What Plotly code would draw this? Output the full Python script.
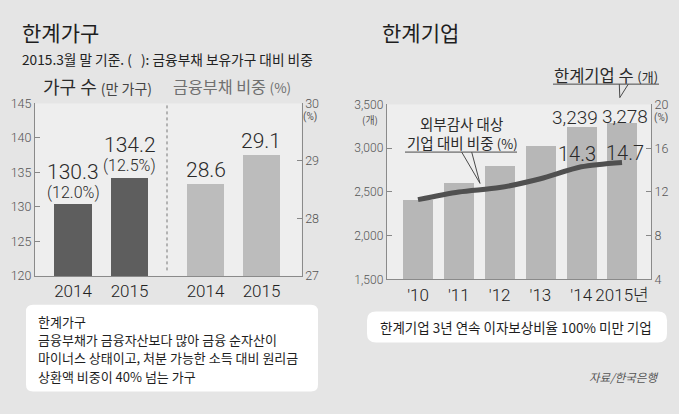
import plotly.graph_objects as go

W, H = 679, 414
BG = "#e5e5e5"
PLOT_BG = "#eeeeee"
FONT = "Noto Sans CJK KR"
NUM = "Roboto, Noto Sans CJK KR"

# ---------------- data ----------------
hh_years = ["2014", "2015"]
hh_count = [130.3, 134.2]      # 한계가구 수 (만 가구)
hh_share = [12.0, 12.5]        # 금융부채 보유가구 대비 비중 (%)
debt_share = [28.6, 29.1]      # 금융부채 비중 (%)

firm_years = ["'10", "'11", "'12", "'13", "'14", "2015년"]
firm_count = [2400, 2600, 2790, 3020, 3239, 3278]   # 한계기업 수 (개)
firm_pct = [11.3, 12.0, 12.4, 13.2, 14.3, 14.7]     # 외부감사 대상 기업 대비 비중 (%)

left_ticks = [120, 125, 130, 135, 140, 145]
right_ticks = [27, 28, 29, 30]
firm_ticks = [1500, 2000, 2500, 3000, 3500]
pct_ticks = [4, 8, 12, 16, 20]


def X(p):
    return p / W


def Y(p):
    return 1 - p / H


fig = go.Figure()

fig.add_trace(go.Bar(x=hh_years, y=hh_count, xaxis="x", yaxis="y",
                     marker=dict(color="#5e5e5e", line=dict(width=0)), width=0.67,
                     hoverinfo="skip"))
fig.add_trace(go.Bar(x=hh_years, y=debt_share, xaxis="x3", yaxis="y2",
                     marker=dict(color="#bcbcbc", line=dict(width=0)), width=0.66,
                     hoverinfo="skip"))
fig.add_trace(go.Bar(x=firm_years, y=firm_count, xaxis="x2", yaxis="y3",
                     marker=dict(color="#b7b7b7", line=dict(width=0)), width=0.735,
                     hoverinfo="skip"))
fig.add_trace(go.Scatter(x=firm_years, y=firm_pct, xaxis="x2", yaxis="y4",
                         mode="lines", line=dict(color="#505050", width=5, shape="spline", smoothing=0.8),
                         hoverinfo="skip"))

axis_common = dict(showgrid=False, zeroline=False, showline=True, linecolor="#8a8a8a",
                   linewidth=1, fixedrange=True)

annotations = []
shapes = []


def nf(size, color="#2a2a2a"):
    return dict(family=NUM, size=size, color=color, weight=300)


# value labels, left chart (category axes: positions by index)
for i, (v, s) in enumerate(zip(hh_count, hh_share)):
    annotations.append(dict(x=i, y=v, xref="x", yref="y", text=f"{v:.1f}", showarrow=False,
                            yanchor="middle", yshift=33, font=nf(21)))
    annotations.append(dict(x=i, y=v, xref="x", yref="y", text=f"({s:.1f}%)", showarrow=False,
                            yanchor="middle", yshift=12, font=nf(16)))
for i, v in enumerate(debt_share):
    annotations.append(dict(x=i, y=v, xref="x3", yref="y2", text=f"{v:.1f}", showarrow=False,
                            yanchor="middle", yshift=14, font=nf(21)))

# value labels, right chart
for i, sh, xs in ((4, 10, -6), (5, 7, 3)):
    annotations.append(dict(x=i, y=firm_count[i], xref="x2", yref="y3",
                            text=f"{firm_count[i]:,}", showarrow=False, yanchor="middle", yshift=sh,
                            xshift=xs, font=nf(19)))
for i, sh, xs in ((4, 13, -4), (5, 9, 3)):
    annotations.append(dict(x=i, y=firm_pct[i], xref="x2", yref="y4",
                            text=f"{firm_pct[i]:.1f}", showarrow=False, yanchor="middle", yshift=sh,
                            xshift=xs, font=nf(20)))


def txt(x, y, text, size, color="#222", xanchor="left", family=FONT):
    annotations.append(dict(x=X(x), y=Y(y), xref="paper", yref="paper", text=text, showarrow=False,
                            xanchor=xanchor, yanchor="middle", font=dict(family=family, size=size, color=color)))


# headings
txt(20, 25, "한계가구", 21, "#1e1e1e")
txt(380, 25, "한계기업", 21, "#1e1e1e")
txt(20, 53, "2015.3월 말 기준. (   ): 금융부채 보유가구 대비 비중", 13.7, "#222")
txt(41, 81, "가구 수 <span style='font-size:14px;color:#444'>(만 가구)</span>", 18, "#2a2a2a")
txt(171, 81, "금융부채 비중 <span style='font-size:13.5px'>(%)</span>", 16.2, "#707070")

# axis unit labels
txt(310, 113.5, "(%)", 10, "#555", "center", NUM)
txt(370, 115.5, "(개)", 10, "#555", "center", FONT)
txt(661, 114, "(%)", 10, "#555", "center", NUM)

# callouts
txt(606, 70, "한계기업 수 <span style='font-size:13px'>(개)</span>", 16.5, "#2a2a2a", "center")
txt(461, 120, "외부감사 대상", 14.5, "#2a2a2a", "center")
txt(462, 140, "기업 대비 비중 <span style='font-size:13px'>(%)</span>", 14.5, "#2a2a2a", "center")


def line(x0, y0, x1, y1, color="#4a4a4a", width=1, dash="solid"):
    shapes.append(dict(type="line", xref="paper", yref="paper", x0=X(x0), y0=Y(y0), x1=X(x1), y1=Y(y1),
                       line=dict(color=color, width=width, dash=dash), layer="above"))


line(553, 79, 659, 79)
line(619.3, 79, 619.8, 93)
line(628.3, 79, 619.8, 93)
line(405, 149.5, 517, 149.5)
line(461.7, 149.5, 480, 182)
line(471.7, 149.5, 480, 182)

# dashed divider in left chart
shapes.append(dict(type="line", xref="x domain", yref="y", x0=1, x1=1, y0=120.8, y1=145.1,
                   line=dict(color="#777", width=1, dash="3px,3px"), layer="above"))


def rrect(x0, y0, x1, y1, r):
    rx, ry = r / W, r / H
    a0, a1, b0, b1 = X(x0), X(x1), Y(y1), Y(y0)
    p = (f"M{a0 + rx},{b0} L{a1 - rx},{b0} Q{a1},{b0} {a1},{b0 + ry} "
         f"L{a1},{b1 - ry} Q{a1},{b1} {a1 - rx},{b1} L{a0 + rx},{b1} "
         f"Q{a0},{b1} {a0},{b1 - ry} L{a0},{b0 + ry} Q{a0},{b0} {a0 + rx},{b0} Z")
    shapes.append(dict(type="path", xref="paper", yref="paper", path=p, fillcolor="white",
                       line=dict(width=0), layer="below"))


rrect(26, 308, 318, 398, 7)
rrect(367, 315, 667, 347, 9)

# box texts
txt(36, 325, "한계가구", 13, "#1e1e1e")
txt(36, 344, "금융부채가 금융자산보다 많아 금융 순자산이", 13, "#1e1e1e")
txt(36, 363, "마이너스 상태이고, 처분 가능한 소득 대비 원리금", 13, "#1e1e1e")
txt(36, 382, "상환액 비중이 40% 넘는 가구", 13, "#1e1e1e")
txt(516, 331, "한계기업 3년 연속 이자보상비율 100% 미만 기업", 13.5, "#1e1e1e", "center")
annotations.append(dict(x=X(660), y=Y(383), xref="paper", yref="paper", text="<i>자료/한국은행</i>",
                        showarrow=False, xanchor="right", yanchor="middle",
                        font=dict(family=FONT, size=11.5, color="#555")))

xfont = dict(family=NUM, size=17, color="#222", weight=300)
yfont = dict(family=NUM, size=12.5, color="#555", weight=300)

fig.update_layout(
    width=W, height=H, margin=dict(l=0, r=0, t=0, b=0),
    paper_bgcolor=BG, plot_bgcolor=PLOT_BG, showlegend=False, bargap=0,
    font=dict(family=FONT),
    xaxis=dict(axis_common, domain=[X(35), X(167)], range=[-0.673, 1.664], type="category",
               anchor="y", ticks="", tickfont=xfont),
    xaxis3=dict(axis_common, domain=[X(167), X(301.7)], range=[-0.6875, 1.718], type="category",
                anchor="y2", ticks="", tickfont=xfont),
    yaxis=dict(axis_common, domain=[1 - 278 / H, 1 - 99 / H], range=[120, 145], anchor="x",
               tickvals=left_ticks, ticks="inside", ticklen=5, tickcolor="#888", tickfont=yfont),
    yaxis2=dict(axis_common, domain=[1 - 278 / H, 1 - 99 / H], range=[27, 30], anchor="x3", side="right",
                tickvals=right_ticks, ticks="inside", ticklen=5, tickcolor="#888", tickfont=yfont),
    xaxis2=dict(axis_common, domain=[X(386.7), X(651)], range=[-0.767, 5.71], type="category",
                anchor="y3", ticks="", tickfont=xfont),
    yaxis3=dict(axis_common, domain=[1 - 281.7 / H, 1 - 100 / H], range=[1500, 3500], anchor="x2",
                tickvals=firm_ticks, tickformat=",", ticks="inside", ticklen=5, tickcolor="#888",
                tickfont=dict(family=NUM, size=12, color="#555", weight=300)),
    yaxis4=dict(axis_common, domain=[1 - 281.7 / H, 1 - 100 / H], range=[4, 20], anchor="x2",
                overlaying="y3", side="right", tickvals=pct_ticks, ticks="inside", ticklen=5,
                tickcolor="#888", tickfont=yfont),
    annotations=annotations, shapes=shapes,
)

fig.write_html("out.html", config={"displayModeBar": False},
               post_script="document.body.style.margin='0';")
